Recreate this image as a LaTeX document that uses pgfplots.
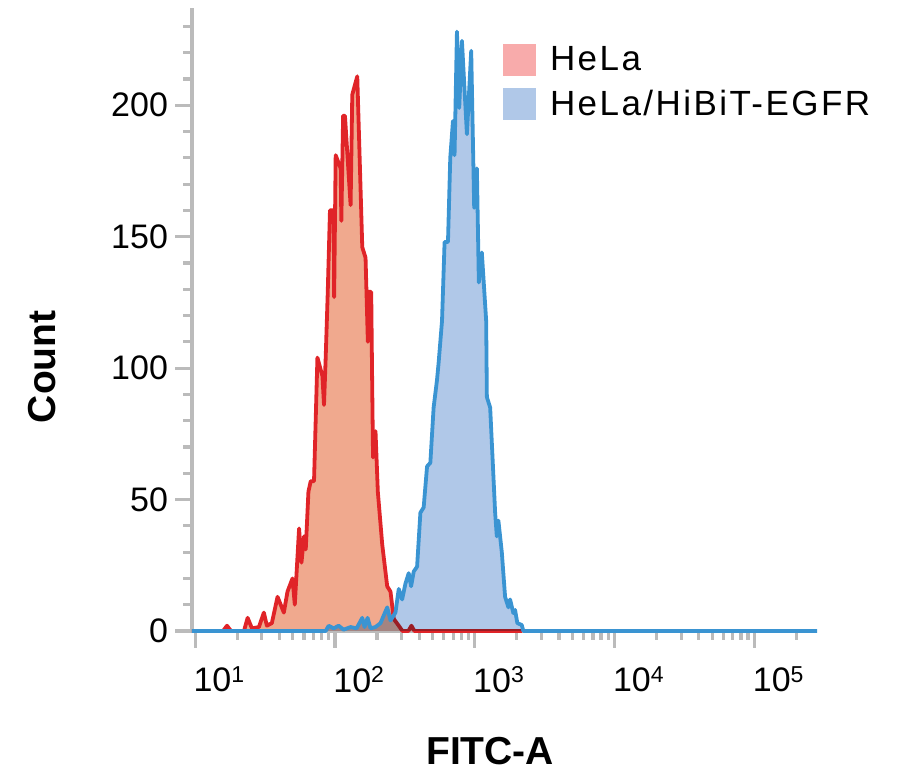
\documentclass[border=0pt]{standalone}
\usepackage{fontspec}
\setmainfont{Liberation Sans}
\usepackage{pgfplots}
\usepackage{pgfplotstable}
\pgfplotsset{compat=1.18}
\definecolor{axgray}{RGB}{187,187,187}
\definecolor{redline}{RGB}{224,36,40}
\definecolor{redfill}{RGB}{240,169,142}
\definecolor{blueline}{RGB}{58,148,210}
\definecolor{bluefill}{RGB}{176,200,232}
\definecolor{pinkleg}{RGB}{248,171,171}
\newcommand\supx[1]{\raisebox{4.8pt}{\fontsize{11.5pt}{12pt}\selectfont #1}}

\pgfplotstableread{
x y
9.5 0
15.83 0
16.91 2
18.06 0
22.35 0
23.75 5
25.49 1
28.59 1.5
31.02 7
32.60 2
35.38 3
38.86 13
43.10 7
45.79 15
49.71 20
51.62 10
55.39 39
57.61 26
60.12 36
61.83 31
64.62 53
67.11 57
70.85 57
74.93 104
81.34 97
83.51 86
85.86 104
88.72 128
92.13 160
97.88 160
98.69 127
101.2 181
109.8 176
111.1 156
114.4 196
117.9 196
129.4 162
133.0 204
144.4 211
156.8 146
165.5 142
171.9 110
172.7 129
181.7 129
184.1 100
187.2 66
195.0 76
202.6 53
217.7 33
236.4 17
249.5 15
263.4 4.6
285.9 2
303.8 0
335.2 0
352.2 2
370.0 0
2177 0
}\redtab

\pgfplotstableread{
x y
9.5 0
85.86 0
90.19 2
97.88 1
106.3 2
115.3 0.5
129.4 1.5
142.8 1
156.8 5
162.8 1.5
171.1 5
179.6 1
195.0 1.5
211.7 3
236.4 9
249.5 4
270.8 7
285.9 16
302.3 12
319.1 18
336.9 22
350.4 17
365.8 22.6
386.8 24.5
408.3 45
430.9 47
455.7 62.6
481.0 64
507.7 85
537.0 95.6
551.2 102
583.0 118
608.1 148
643.1 148
667.8 180
698.0 194
716.6 181
745.5 228
774.1 199
809.2 224.5
878.4 189
942.6 220.7
990.1 161
1035 176
1069 132.6
1123 144
1206 118
1220 89
1288 85
1398 45
1437 36
1475 42
1560 30
1647 13
1739 9
1788 12
1887 6.8
1941 8
2015 3
2166 2.3
2224 0
280000 0
}\bluetab

\begin{document}
\begin{tikzpicture}
\begin{axis}[
  name=ax,
  scale only axis, width=312.5pt, height=311.5pt,
  xmode=log, xmin=9.5, xmax=280000, ymin=0, ymax=237,
  axis lines=left,
  axis line style={-, axgray, line width=2pt},
  tick align=outside,
  major tick length=8.5pt, minor tick length=4.5pt,
  tick style={axgray, line width=1.6pt},
  xtick={10,100,1000,10000,100000},
  xticklabels={10\supx{1},10\supx{2},10\supx{3},10\supx{4},10\supx{5}},
  minor xtick={20,30,40,50,60,70,80,90,200,300,400,500,600,700,800,900,2000,3000,4000,5000,6000,7000,8000,9000,20000,30000,40000,50000,60000,70000,80000,90000,200000},
  ytick={0,50,100,150,200},
  minor ytick={10,20,...,230},
  /pgf/number format/assume math mode=true,
  yticklabel style={font=\fontsize{17pt}{20pt}\selectfont},
  xticklabel style={font=\fontsize{17pt}{20pt}\selectfont, anchor=north west, inner sep=0pt, yshift=-9pt, xshift=-1pt},
  xlabel={FITC-A}, ylabel={Count},
  xlabel style={at={(axis description cs:0.477,-0.1926)}, anchor=center, font=\bfseries\fontsize{19.5pt}{22pt}\selectfont},
  ylabel style={at={(axis description cs:-0.24,0.424)}, anchor=center, font=\bfseries\fontsize{19.5pt}{22pt}\selectfont},
  clip=false,
  legend style={draw=none, fill=none, at={(rel axis cs:0.4976,0.944)}, anchor=north west,
    inner sep=0pt, outer sep=0pt, row sep=4pt,
    font=\fontsize{17.5pt}{19pt}\selectfont\addfontfeature{LetterSpace=7},
    /tikz/every odd column/.append style={column sep=5pt},
    legend cell align=left},
  legend image code/.code={\fill[#1] (0pt,-8pt) rectangle (16.5pt,8pt);},
]
\addplot[draw=none, fill=redfill, forget plot] table[x=x,y=y] {\redtab} \closedcycle;
\addplot[redline, line width=1.9pt, line join=round, forget plot] table[x=x,y=y] {\redtab};
\addplot[draw=none, fill=bluefill, blend mode=multiply, forget plot] table[x=x,y=y] {\bluetab} \closedcycle;
\addplot[blueline, line width=1.9pt, line join=round, forget plot] table[x=x,y=y] {\bluetab};
\addlegendimage{fill=pinkleg, draw=none}
\addlegendentry{HeLa}
\addlegendimage{fill=bluefill, draw=none}
\addlegendentry{HeLa/HiBiT-EGFR}
\end{axis}
\path ([shift={(-96pt,-71.5pt)}]ax.south west) rectangle ([shift={(44pt,4pt)}]ax.north east);
\end{tikzpicture}
\end{document}
